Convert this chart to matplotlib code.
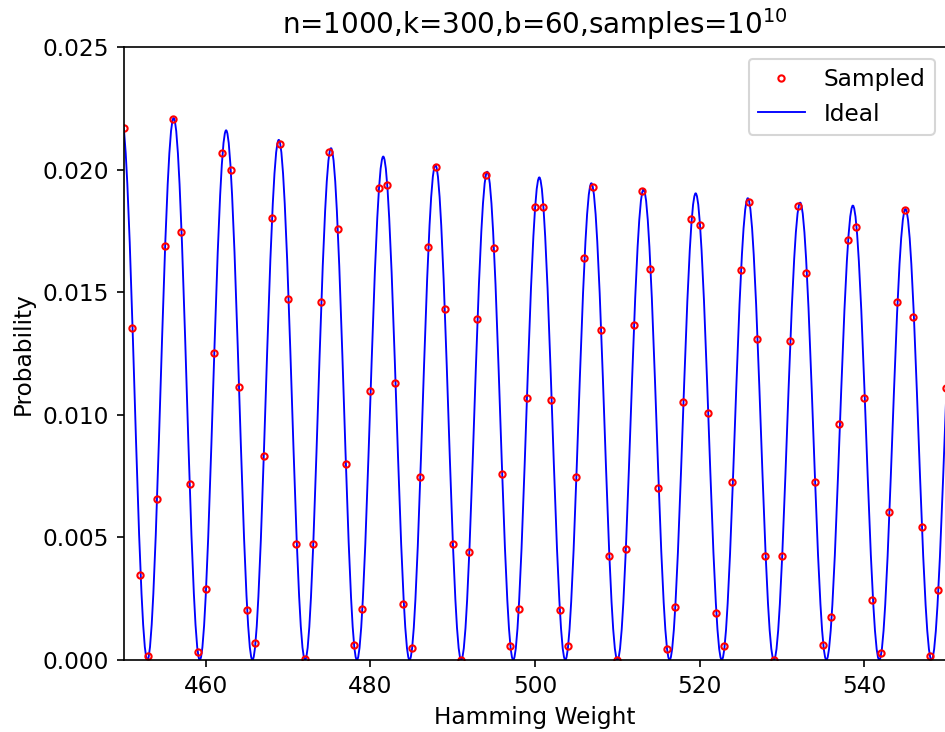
#!/usr/bin/env python
# -*- coding: utf-8 -*-

import matplotlib
matplotlib.use('Agg')
import matplotlib.pyplot as plt
from matplotlib.path import Path
from matplotlib.patches import PathPatch
from matplotlib.lines import Line2D

# hamming weights shown on the x axis
weights = list(range(450, 551))

# sampled probability for each weight
sampled = [
    0.02168, 0.01355, 0.00345, 0.00016, 0.00655, 0.01688, 0.02206, 0.01745, 0.00718, 0.00031,
    0.00289, 0.01254, 0.02068, 0.01998, 0.01114, 0.00203, 0.00070, 0.00832, 0.01803, 0.02104,
    0.01474, 0.00474, 0.00003, 0.00473, 0.01462, 0.02072, 0.01758, 0.00799, 0.00062, 0.00207,
    0.01097, 0.01925, 0.01937, 0.01130, 0.00229, 0.00050, 0.00745, 0.01684, 0.02012, 0.01431,
    0.00472, 0.00000, 0.00441, 0.01390, 0.01978, 0.01680, 0.00759, 0.00057, 0.00207, 0.01067,
    0.01847, 0.01846, 0.01059, 0.00205, 0.00057, 0.00745, 0.01640, 0.01929, 0.01347, 0.00426,
    0.00000, 0.00452, 0.01366, 0.01913, 0.01595, 0.00703, 0.00046, 0.00216, 0.01052, 0.01799,
    0.01774, 0.01008, 0.00191, 0.00057, 0.00727, 0.01590, 0.01869, 0.01311, 0.00423, 0.00000,
    0.00423, 0.01302, 0.01852, 0.01577, 0.00726, 0.00062, 0.00175, 0.00961, 0.01714, 0.01764,
    0.01067, 0.00245, 0.00027, 0.00604, 0.01459, 0.01836, 0.01400, 0.00543, 0.00015, 0.00284,
    0.01108,
]

# ideal curve: tops of the lobes and the zeros between them
peak_x = [449.73, 456.07, 462.45, 468.85, 475.20, 481.55, 487.89, 494.19, 500.52,
          506.85, 513.19, 519.53, 525.87, 532.23, 538.64, 545.03, 551.40]
peak_y = [0.02210, 0.02210, 0.02160, 0.02121, 0.02087, 0.02053, 0.02019, 0.01991, 0.01968,
          0.01944, 0.01919, 0.01903, 0.01883, 0.01865, 0.01853, 0.01839, 0.01820]
zero_x = [452.88, 459.25, 465.65, 472.05, 478.35, 484.75, 491.03, 497.35,
          503.68, 510.02, 516.36, 522.70, 529.04, 535.42, 541.85, 548.20]


def ideal_path( a=0.36 ):
    # one cubic bezier from each top down to the next zero and back up
    verts = [ (peak_x[0], peak_y[0]) ]
    codes = [ Path.MOVETO ]
    for i, z in enumerate( zero_x ):
        p0, h0 = peak_x[i], peak_y[i]
        p1, h1 = peak_x[i + 1], peak_y[i + 1]
        w = z - p0
        verts += [ (p0 + a * w, h0), (z - a * w, 0.0), (z, 0.0) ]
        w = p1 - z
        verts += [ (z + a * w, 0.0), (p1 - a * w, h1), (p1, h1) ]
        codes += [ Path.CURVE4 ] * 6
    return Path( verts, codes )


def main():

    plt.rcParams['font.size'] = 11.2

    fig = plt.figure( figsize=(6.3, 4.88), dpi=150 )
    ax = fig.add_axes( [0.1309, 0.0984, 0.8705, 0.8374] )

    ax.add_patch( PathPatch( ideal_path(), facecolor='none', edgecolor='blue', lw=0.9 ) )
    pts, = ax.plot( weights, sampled, 'o', mfc='none', mec='red', ms=3.0, mew=1.0 )
    ideal = Line2D( [], [], color='blue', lw=0.9 )

    ax.set_xlim( 450, 550 )
    ax.set_ylim( 0, 0.025 )
    ax.set_title( 'n=1000,k=300,b=60,samples=$10^{10}$', fontsize=13.3 )
    ax.set_xlabel( 'Hamming Weight' )
    ax.set_ylabel( 'Probability' )
    ax.legend( [pts, ideal], ['Sampled', 'Ideal'], loc='upper right' )

    fig.savefig( 'out.png', dpi=150 )

if __name__ == '__main__':
    main()
